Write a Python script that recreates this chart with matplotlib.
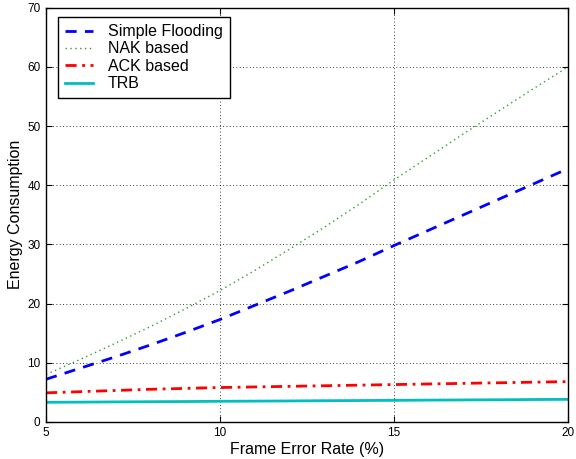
import matplotlib
matplotlib.use("Agg")
import matplotlib.pyplot as plt

plt.rcParams['font.family'] = ['Liberation Sans', 'DejaVu Sans']

fer = [5, 6, 7, 8, 9, 10, 11, 12, 13, 14, 15, 16, 17, 18, 19, 20]
simple_flooding = [7.2, 9.1, 11.0, 13.0, 15.1, 17.3, 19.7, 22.1, 24.6, 27.1, 29.8, 32.4, 35.0, 37.6, 40.2, 42.8]
nak_based = [8.0, 10.6, 13.3, 16.1, 19.1, 22.2, 25.6, 29.2, 32.9, 36.8, 40.9, 44.8, 48.7, 52.5, 56.3, 60.0]
ack_based = [4.9, 5.1, 5.3, 5.5, 5.65, 5.8, 5.9, 6.0, 6.1, 6.2, 6.3, 6.4, 6.5, 6.6, 6.7, 6.8]
trb = [3.3, 3.33, 3.37, 3.4, 3.43, 3.47, 3.5, 3.53, 3.57, 3.6, 3.63, 3.67, 3.7, 3.73, 3.77, 3.8]

xticks = [5, 10, 15, 20]
yticks = [0, 10, 20, 30, 40, 50, 60, 70]

fig = plt.figure(figsize=(5.76, 4.59), dpi=100)
ax = fig.add_axes([0.080, 0.081, 0.906, 0.902])

ax.plot(fer, simple_flooding, color='#0000ff', linestyle=(0, (4, 3)), linewidth=2.0, label='Simple Flooding')
ax.plot(fer, nak_based, color='#2e9e2e', linestyle=(0, (1, 2.5)), linewidth=1.0, label='NAK based')
ax.plot(fer, ack_based, color='#ff0000', linestyle=(0, (4, 2, 1, 2)), linewidth=2.0, label='ACK based')
ax.plot(fer, trb, color='#00bfbf', linestyle='-', linewidth=2.0, label='TRB')

ax.set_xlim(5, 20)
ax.set_ylim(0, 70)
ax.set_xticks(xticks)
ax.set_yticks(yticks)
ax.tick_params(direction='in', labelsize=8.5, length=4, width=0.8, top=True, right=True, pad=4)
ax.grid(True, color='black', linestyle=(0, (1, 3)), linewidth=0.6)
for s in ax.spines.values():
    s.set_linewidth(1.0)

ax.set_xlabel('Frame Error Rate (%)', fontsize=11.5, labelpad=2)
ax.set_ylabel('Energy Consumption', fontsize=11.5, labelpad=3)

leg = ax.legend(loc='upper left', bbox_to_anchor=(0.023, 0.978), fontsize=11.5, frameon=True,
                fancybox=False, edgecolor='black', framealpha=1, borderpad=0.45,
                labelspacing=0.15, handlelength=1.75, handletextpad=0.9, borderaxespad=0.0)
leg.get_frame().set_linewidth(1.0)

fig.savefig('out.png', dpi=100)
